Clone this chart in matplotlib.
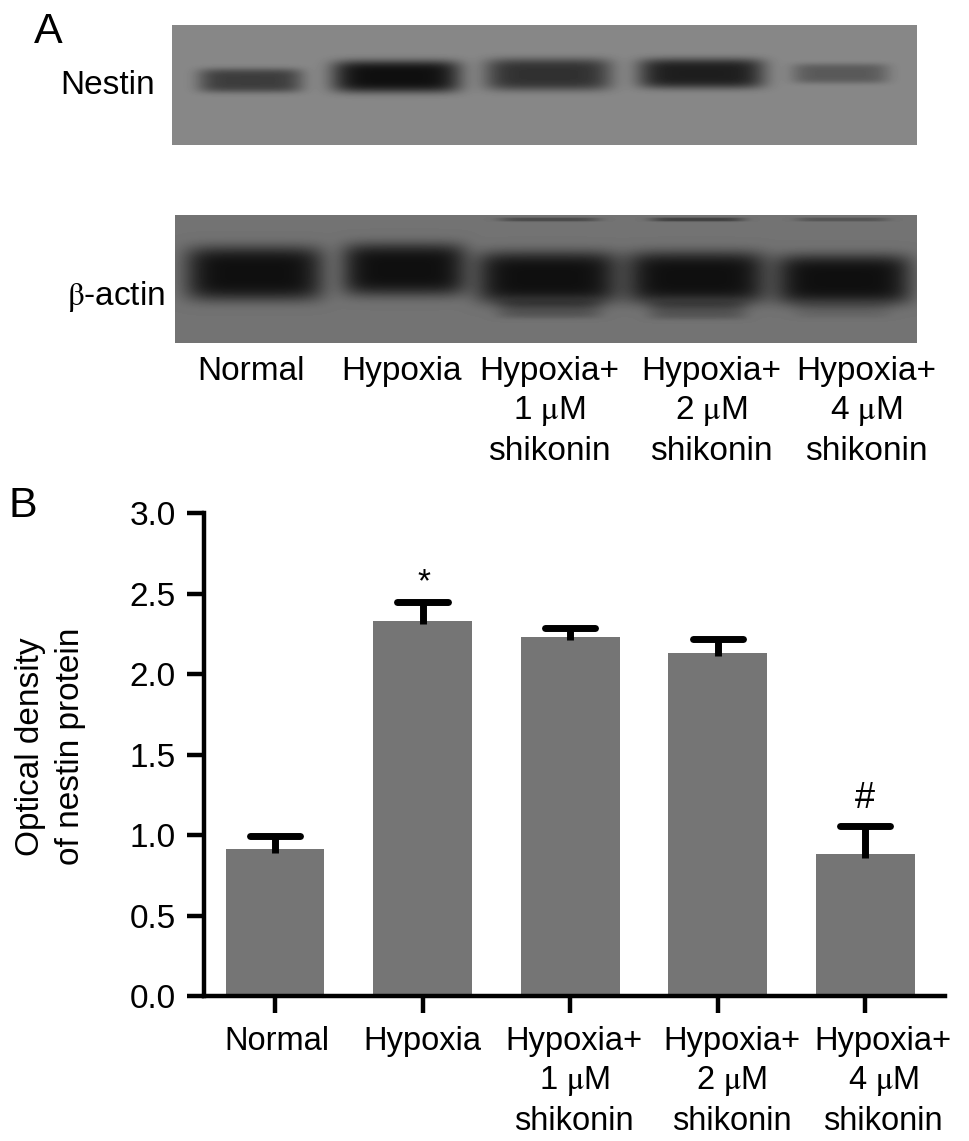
import numpy as np
import matplotlib
matplotlib.use('Agg')
import matplotlib.pyplot as plt
from matplotlib.transforms import ScaledTranslation

plt.rcParams['font.family'] = ['Liberation Sans', 'DejaVu Sans']
plt.rcParams['mathtext.fontset'] = 'stix'

W, H = 969, 1141

groups = ['Normal', 'Hypoxia', 'Hypoxia+\n1 $\\mathrm{\\mu}$M\nshikonin',
          'Hypoxia+\n2 $\\mathrm{\\mu}$M\nshikonin', 'Hypoxia+\n4 $\\mathrm{\\mu}$M\nshikonin']
density = [0.91, 2.33, 2.23, 2.13, 0.88]
err_up = [0.085, 0.115, 0.055, 0.085, 0.175]
y_ticks = [0.0, 0.5, 1.0, 1.5, 2.0, 2.5, 3.0]

# blot bands: centre x, centre y, half width, half height (pixels), strength
nestin_x = [250, 396, 548, 701, 840]
nestin_y = [80, 76, 74, 73, 73]
nestin_w = [52, 64, 63, 63, 48]
nestin_h = [12, 16, 16, 15, 10]
nestin_s = [0.62, 1.0, 0.72, 0.88, 0.38]
actin_x = [254, 404, 547, 696, 843, 549, 697, 842, 549, 697, 842]
actin_y = [273, 269, 277, 277, 279, 309, 310, 310, 219, 219, 219]
actin_w = [69, 62, 71, 70, 68, 52, 49, 48, 50, 47, 46]
actin_h = [27, 26, 26, 26, 25, 9, 9, 8, 2, 2, 2]
actin_s = [1.0, 1.0, 1.0, 1.0, 1.0, 0.3, 0.3, 0.12, 0.4, 0.5, 0.3]

# tick label shift from the tick, pixels
label_shift = [2, 0, 4, 14, 18]


def blot(xs, ys, ws, hs, ss, x0, x1, y0, y1, bg):
    X, Y = np.meshgrid(np.arange(x0, x1), np.arange(y0, y1))
    img = np.full(X.shape, bg, dtype=float)
    for cx, cy, w, h, s in zip(xs, ys, ws, hs, ss):
        r = ((X - cx) / w) ** 6 + ((Y - cy) / h) ** 4
        img -= (bg - 0.06) * s * np.exp(-r)
    return np.clip(img, 0, 1), (x0, x1, y1, y0)


fig = plt.figure(figsize=(W / 100, H / 100), dpi=100)

# panel A in pixel coordinates
top = fig.add_axes([0, 0, 1, 1])
img, ext = blot(nestin_x, nestin_y, nestin_w, nestin_h, nestin_s, 172, 917, 25, 145, 0.53)
top.imshow(img, cmap='gray', vmin=0, vmax=1, extent=ext, aspect='auto')
img, ext = blot(actin_x, actin_y, actin_w, actin_h, actin_s, 175, 917, 215, 343, 0.45)
top.imshow(img, cmap='gray', vmin=0, vmax=1, extent=ext, aspect='auto')
top.set_xlim(0, W)
top.set_ylim(H, 0)
top.axis('off')

top.text(34, 32, 'A', fontsize=31, va='center')
top.text(9, 506, 'B', fontsize=31, va='center')
top.text(155, 85, 'Nestin', fontsize=24, ha='right', va='center')
top.text(165, 296, '$\\mathrm{\\beta}$-actin', fontsize=24, ha='right', va='center')
label_x = [251, 402, 549, 711, 866]
for x, g in zip(label_x, groups):
    top.text(x, 356, g, fontsize=24, ha='center', va='top', linespacing=1.3)

# panel B
ax = fig.add_axes([204 / W, 1 - 996 / H, (945 - 204) / W, (996 - 513) / H])
ax.patch.set_alpha(0)
xpos = np.arange(len(groups))
tops = np.array(density) + np.array(err_up)
ax.bar(xpos, density, width=0.67, color='#757575', zorder=2)
ax.vlines(xpos, np.array(density) - 0.02, tops, color='black', linewidth=5, zorder=3)
ax.hlines(tops, xpos - 0.17, xpos + 0.17, color='black', linewidth=5, capstyle='round', zorder=3)
ax.set_xlim(-0.481, 4.54)
ax.set_ylim(0, 3)
ax.set_yticks(y_ticks)
ax.set_yticklabels([f'{t:.1f}' for t in y_ticks])
ax.set_xticks(xpos)
ax.set_xticklabels(groups, linespacing=1.3)
ax.tick_params(axis='x', width=3.2, length=12.5, labelsize=23.5, pad=9)
ax.tick_params(axis='y', width=3.2, length=12.5, labelsize=24, pad=8)
for lab, dx in zip(ax.get_xticklabels(), label_shift):
    lab.set_transform(lab.get_transform() + ScaledTranslation(dx / 100, 0, fig.dpi_scale_trans))
for s in ['top', 'right']:
    ax.spines[s].set_visible(False)
for s in ['left', 'bottom']:
    ax.spines[s].set_linewidth(3.2)
ax.set_ylabel('Optical density\nof nestin protein', fontsize=24, labelpad=31, linespacing=1.4, y=0.516)
ax.text(1.01, 2.47, '*', fontsize=24, ha='center', va='bottom')
ax.text(4, 1.12, '#', fontsize=26, ha='center', va='bottom')

fig.savefig('out.png', dpi=100)
